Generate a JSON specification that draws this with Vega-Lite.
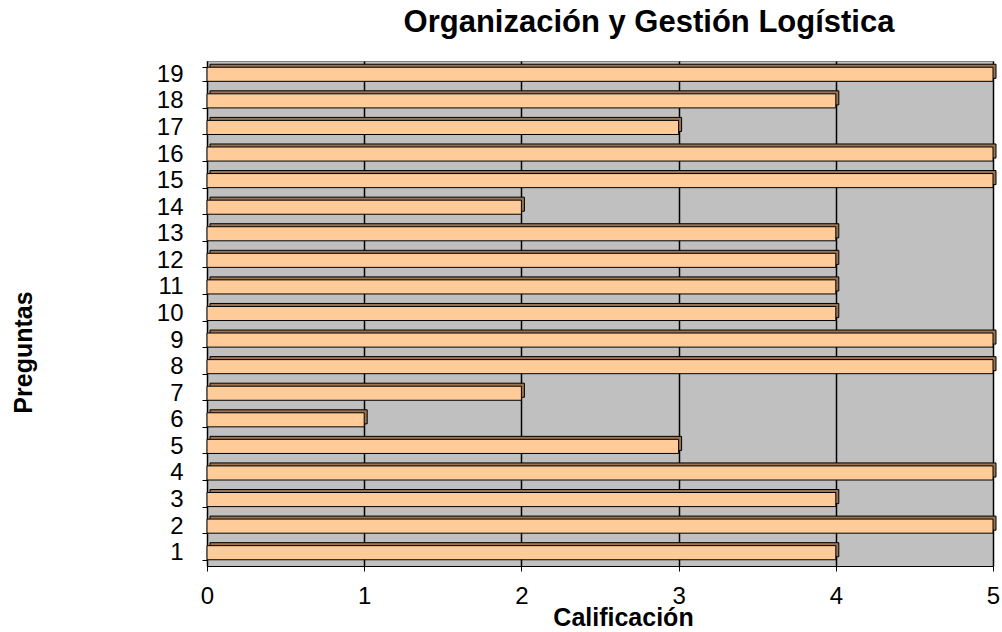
{
  "$schema": "https://vega.github.io/schema/vega-lite/v6.json",
  "width": 786,
  "height": 505,
  "autosize": {"type": "none"},
  "padding": {"left": 207, "top": 61, "right": 9, "bottom": 66},
  "background": "#FFFFFF",
  "title": {
    "text": "Organización y Gestión Logística",
    "font": "Liberation Sans",
    "fontSize": 31,
    "fontWeight": "bold",
    "color": "#000000",
    "anchor": "middle",
    "dx": 49,
    "offset": 10
  },
  "data": {
    "values": [
      {"pregunta": "1", "calificacion": 4},
      {"pregunta": "2", "calificacion": 5},
      {"pregunta": "3", "calificacion": 4},
      {"pregunta": "4", "calificacion": 5},
      {"pregunta": "5", "calificacion": 3},
      {"pregunta": "6", "calificacion": 1},
      {"pregunta": "7", "calificacion": 2},
      {"pregunta": "8", "calificacion": 5},
      {"pregunta": "9", "calificacion": 5},
      {"pregunta": "10", "calificacion": 4},
      {"pregunta": "11", "calificacion": 4},
      {"pregunta": "12", "calificacion": 4},
      {"pregunta": "13", "calificacion": 4},
      {"pregunta": "14", "calificacion": 2},
      {"pregunta": "15", "calificacion": 5},
      {"pregunta": "16", "calificacion": 5},
      {"pregunta": "17", "calificacion": 3},
      {"pregunta": "18", "calificacion": 4},
      {"pregunta": "19", "calificacion": 5}
    ]
  },
  "encoding": {
    "y": {
      "field": "pregunta",
      "type": "ordinal",
      "sort": ["19","18","17","16","15","14","13","12","11","10","9","8","7","6","5","4","3","2","1"],
      "scale": {"paddingInner": 0.47, "paddingOuter": 0.235},
      "axis": {
        "title": "Preguntas",
        "titleFont": "Liberation Sans",
        "titleFontSize": 25,
        "titleFontWeight": "bold",
        "titleColor": "#000000",
        "titleAngle": -90,
        "titleX": -184,
        "titleY": 291,
        "titleAlign": "center",
        "titleBaseline": "middle",
        "labelFont": "Liberation Sans",
        "labelFontSize": 24,
        "labelColor": "#000000",
        "labelPadding": 19,
        "tickBand": "extent",
        "tickSize": 5,
        "tickColor": "#000000",
        "domainColor": "#000000",
        "grid": false
      }
    },
    "x": {
      "field": "calificacion",
      "type": "quantitative",
      "scale": {"domain": [0, 5], "nice": false},
      "axis": {
        "title": "Calificación",
        "titleFont": "Liberation Sans",
        "titleFontSize": 25,
        "titleFontWeight": "bold",
        "titleColor": "#000000",
        "titleX": 416,
        "titleY": 59,
        "titleAlign": "center",
        "titleBaseline": "alphabetic",
        "values": [0, 1, 2, 3, 4, 5],
        "format": "d",
        "labelFont": "Liberation Sans",
        "labelFontSize": 24,
        "labelColor": "#000000",
        "labelPadding": 13,
        "labelFlush": false,
        "tickSize": 5,
        "tickColor": "#000000",
        "domainColor": "#000000",
        "grid": true,
        "gridColor": "#000000",
        "gridWidth": 1.5
      }
    }
  },
  "layer": [
    {
      "mark": {"type": "bar", "color": "#9C7350", "stroke": "#000000", "strokeWidth": 1, "xOffset": 3, "yOffset": -3}
    },
    {
      "mark": {"type": "bar", "color": "#FFCC99", "stroke": "#000000", "strokeWidth": 1}
    }
  ],
  "config": {
    "view": {"fill": "#C0C0C0", "stroke": "#808080", "strokeWidth": 1}
  }
}
